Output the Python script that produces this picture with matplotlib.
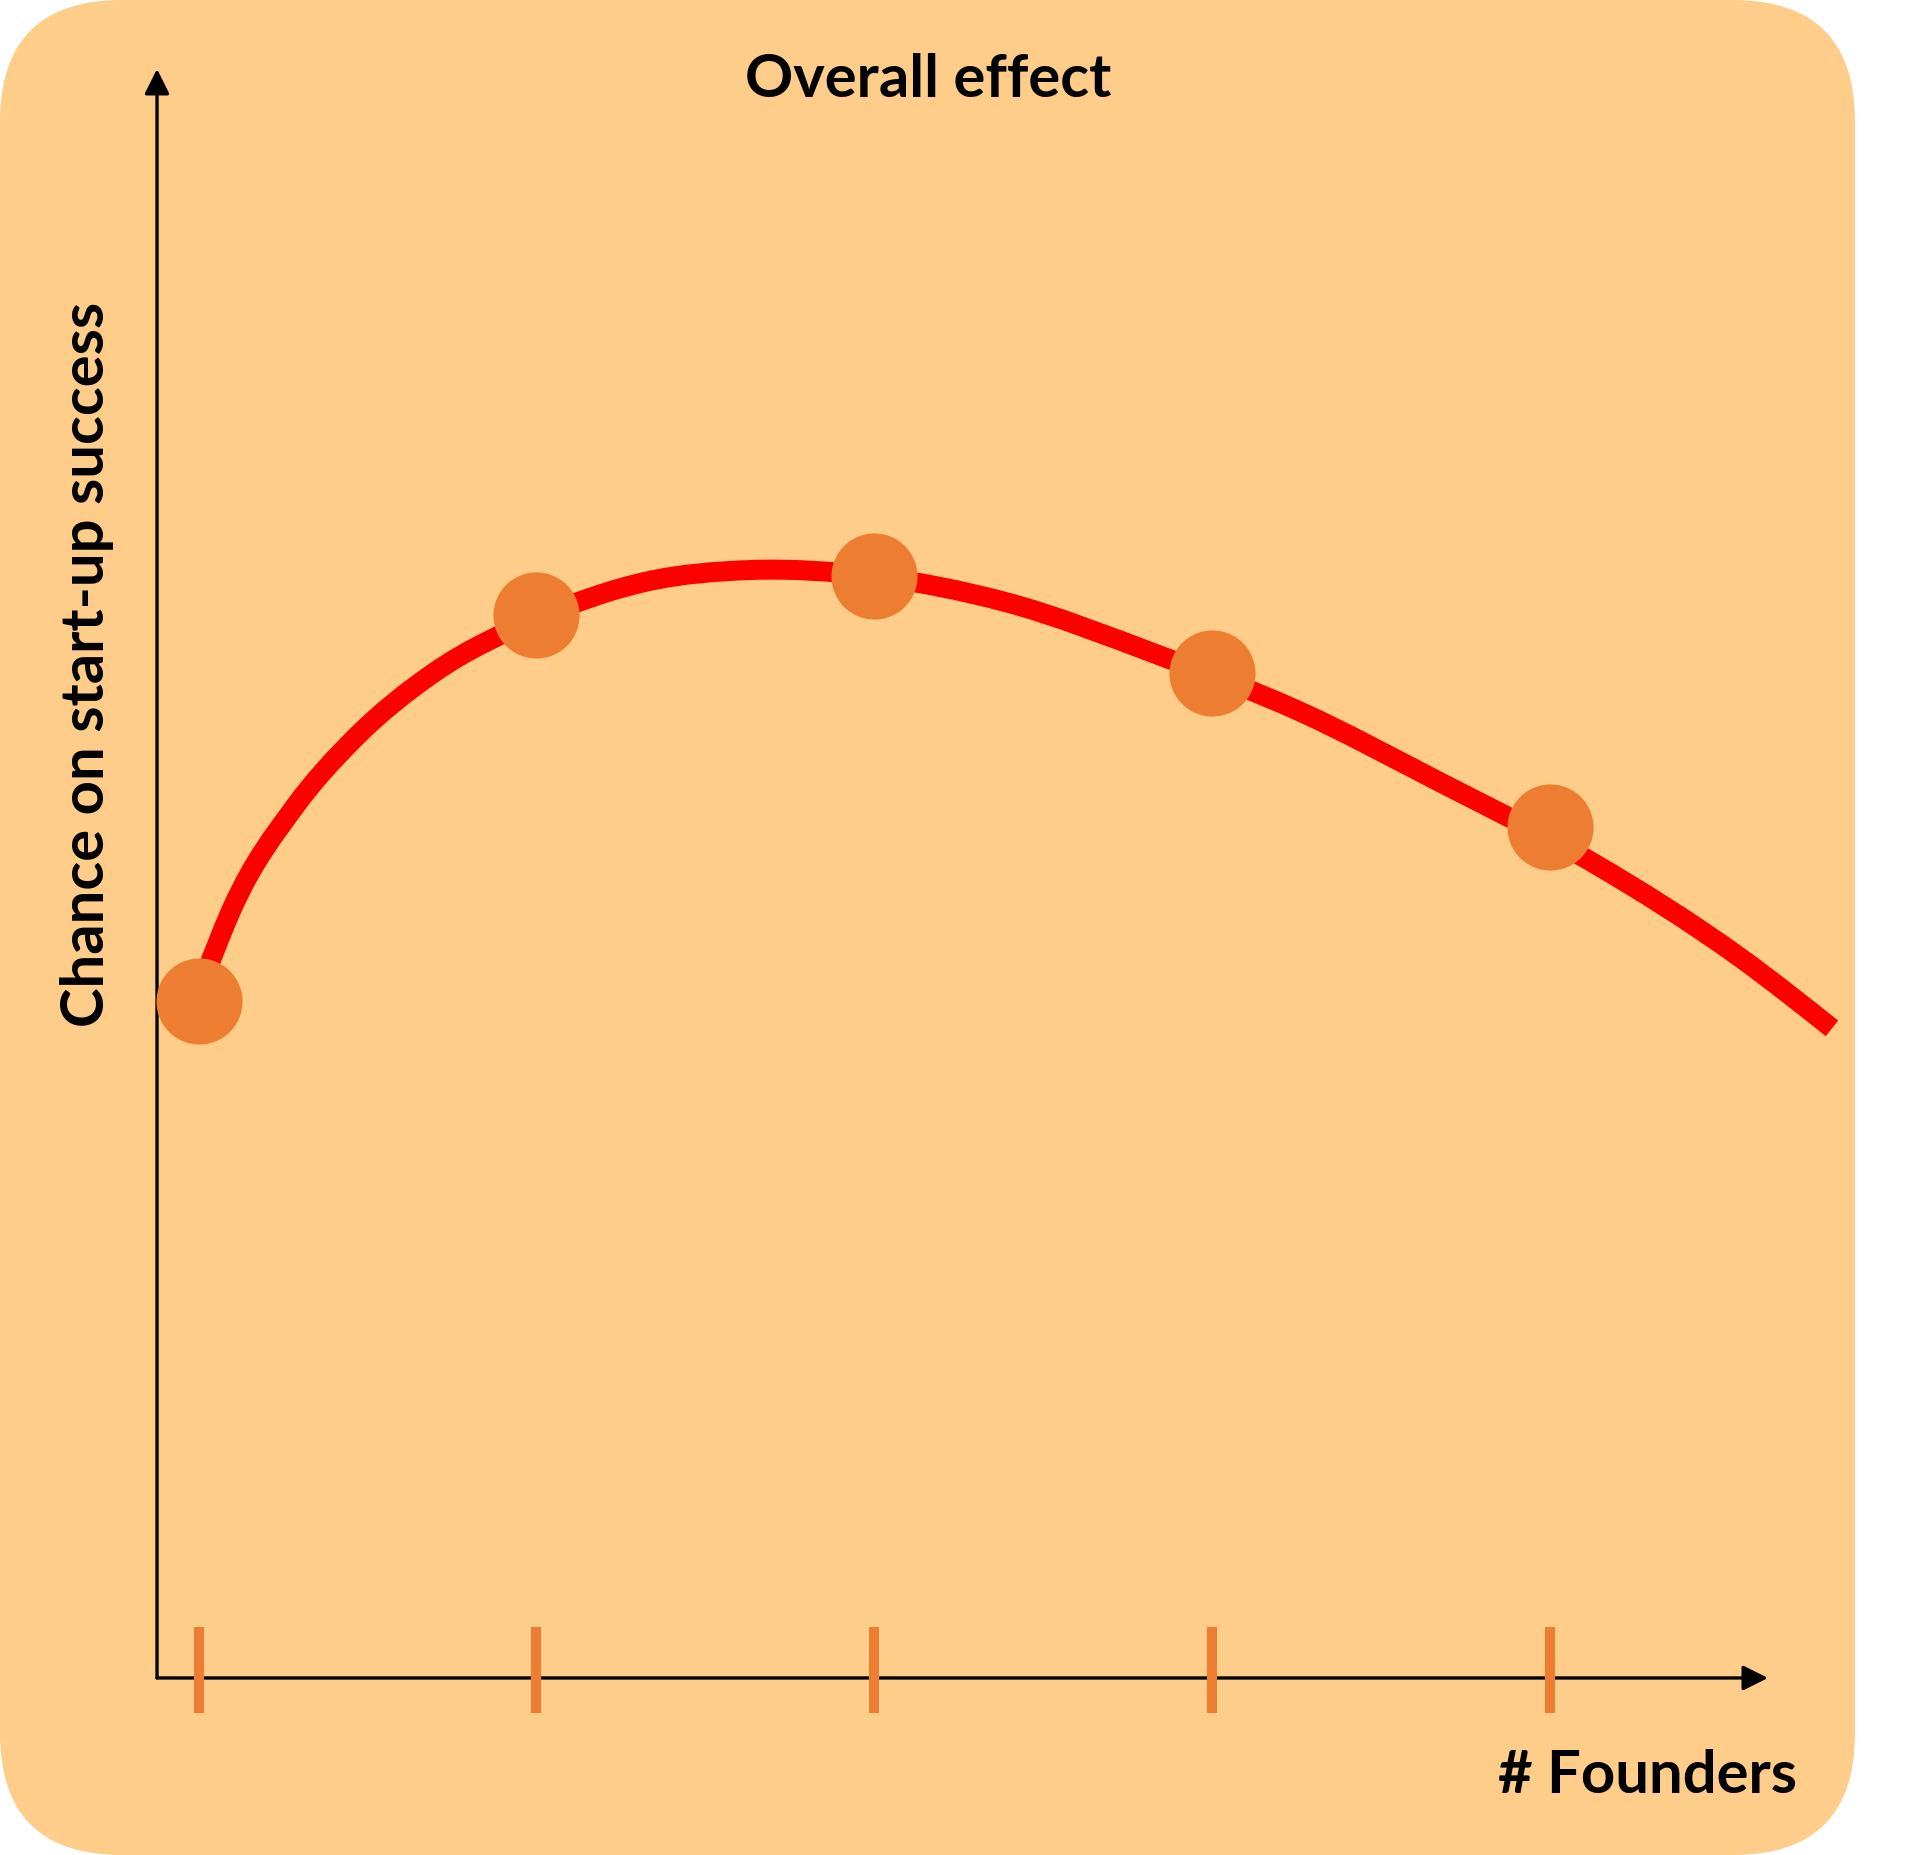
import numpy as np
import matplotlib
matplotlib.use("Agg")
from matplotlib import pyplot as plt
from matplotlib.patches import FancyBboxPatch, PathPatch
from matplotlib.path import Path

# data (chance on an arbitrary 0-1 scale)
founders = [1, 2, 3, 4, 5]
chance = [0.421, 0.661, 0.685, 0.625, 0.529]

# points along the red trend curve
curve_x = [1.019, 1.102, 1.285, 1.455, 1.695, 2.004, 2.330, 2.632, 3.002,
           3.390, 3.843, 4.260, 4.675, 5.119, 5.563, 5.835]
curve_y = [0.437, 0.480, 0.542, 0.583, 0.625, 0.659, 0.682, 0.689, 0.685,
           0.669, 0.636, 0.601, 0.557, 0.508, 0.448, 0.404]

title = "Overall effect"
x_label = "# Founders"
y_label = "Chance on start-up success"

BG = "#FECD8A"
ORANGE = "#ED7D31"
RED = "#FF0000"
FONT = ["Lato", "DejaVu Sans"]


def smooth_path(xs, ys):
    # smoothed line: cubic hermite segments through the points
    x = np.asarray(xs, float)
    y = np.asarray(ys, float)
    h = np.diff(x)
    d = np.diff(y) / h
    m = np.empty_like(x)
    m[1:-1] = (h[1:] * d[:-1] + h[:-1] * d[1:]) / (h[:-1] + h[1:])
    m[0] = (3 * d[0] - m[1]) / 2
    m[-1] = (3 * d[-1] - m[-2]) / 2
    verts = [(x[0], y[0])]
    codes = [Path.MOVETO]
    for i in range(len(x) - 1):
        verts += [(x[i] + h[i] / 3, y[i] + m[i] * h[i] / 3),
                  (x[i + 1] - h[i] / 3, y[i + 1] - m[i + 1] * h[i] / 3),
                  (x[i + 1], y[i + 1])]
        codes += [Path.CURVE4] * 3
    return Path(verts, codes)


fig = plt.figure(figsize=(19.2, 18.55), dpi=100)

# rounded background card
bg = fig.add_axes([0, 0, 1, 1])
bg.set_xlim(0, 1920)
bg.set_ylim(0, 1855)
bg.axis("off")
bg.add_patch(FancyBboxPatch((0, 0), 1855, 1855,
                            boxstyle="round,pad=0,rounding_size=122",
                            fc=BG, ec="none"))

ax = fig.add_axes([0, 0, 1, 1])
ax.patch.set_alpha(0)
ax.axis("off")
ax.set_xlim(0.4118, 6.0956)
ax.set_ylim(-0.1101, 1.0435)

# axes with arrow heads
arrow = dict(arrowstyle="-|>,head_length=0.4,head_width=0.2", lw=2.4,
             color="black", mutation_scale=38, shrinkA=0, shrinkB=0)
ax.annotate("", xy=(5.6456, 0), xytext=(0.8766, 0), arrowprops=arrow)
ax.annotate("", xy=(0.8766, 1.0006), xytext=(0.8766, 0), arrowprops=arrow)

# orange tick marks
ax.vlines(founders, -0.0218, 0.0317, color=ORANGE, lw=7.2, zorder=3)

ax.add_patch(PathPatch(smooth_path(curve_x, curve_y), fill=False, ec=RED,
                       lw=14.4, capstyle="butt", joinstyle="round", zorder=4))
ax.plot(founders, chance, "o", ms=62, color=ORANGE, mec="none", zorder=5)

fig.text(0.4833, 1 - 97 / 1855, title, ha="center", va="baseline",
         fontsize=43, fontweight="bold", family=FONT)
fig.text(1648 / 1920, 1 - 1793 / 1855, x_label, ha="center", va="baseline",
         fontsize=43, fontweight="bold", family=FONT)
fig.text(104 / 1920, 1 - 664 / 1855, y_label, ha="center", va="baseline",
         rotation=90, rotation_mode="anchor",
         fontsize=43, fontweight="bold", family=FONT)

fig.savefig("out.png", dpi=100)
